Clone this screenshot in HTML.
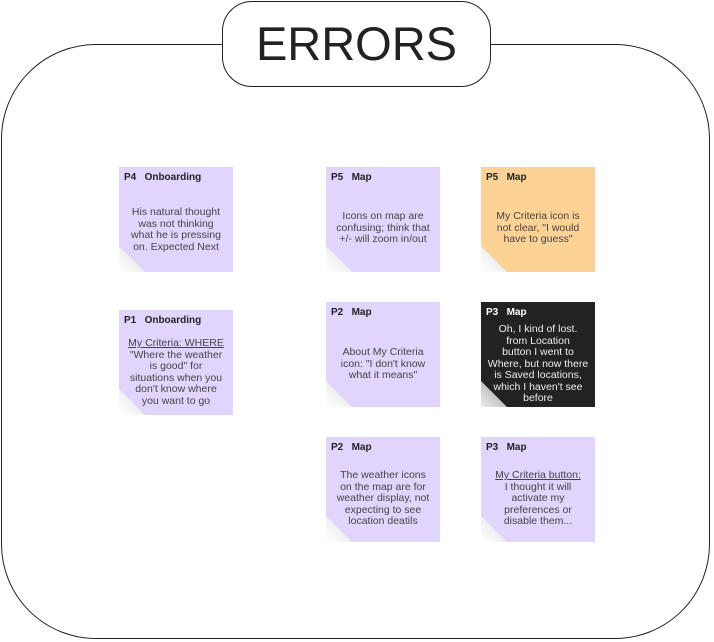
<!DOCTYPE html>
<html><head><style>
html,body{margin:0;padding:0;background:#fff;}
body{width:714px;height:642px;position:relative;overflow:hidden;font-family:"Liberation Sans",sans-serif;}
.frame{position:absolute;left:1px;top:44px;width:709px;height:595px;border:1.3px solid #222;border-radius:95px;box-sizing:border-box;}
.title{position:absolute;left:222px;top:1px;width:269px;height:86px;border:1.3px solid #222;border-radius:30px;background:#fff;box-sizing:border-box;text-align:center;font-size:47px;line-height:84px;color:#222;}
.n{position:absolute;width:114px;height:105px;background:#e2d5fd;color:#444;font-size:10.5px;line-height:11.5px;text-align:center;box-sizing:border-box;}
.n .h{position:absolute;left:5px;top:5px;font-weight:bold;font-size:10px;color:#222;text-align:left;white-space:pre;}
.n .t{position:absolute;left:0;right:0;white-space:nowrap;z-index:2;}
.n .c{position:absolute;left:0;bottom:0;width:26px;height:26px;background:linear-gradient(45deg,#fff 0%,#f3f3f3 40%,#d8d8d8 100%);clip-path:polygon(0 0,100% 100%,0 100%);}
.n.d .c{background:linear-gradient(45deg,#eee 0%,#bbb 60%,#888 100%);}
.u{text-decoration:underline;}
</style></head><body>
<div class="frame"></div>
<div class="title">ERRORS</div>

<div class="n" style="left:119px;top:167px"><div class="h">P4   Onboarding</div><div class="t" style="top:40px">His natural thought<br>was not thinking<br>what he is pressing<br>on. Expected Next</div><div class="c"></div></div>
<div class="n" style="left:119px;top:310px"><div class="h">P1   Onboarding</div><div class="t" style="top:28px"><span class="u">My Criteria: WHERE</span><br>"Where the weather<br>is good" for<br>situations when you<br>don't know where<br>you want to go</div><div class="c"></div></div>

<div class="n" style="left:326px;top:167px"><div class="h">P5   Map</div><div class="t" style="top:44px">Icons on map are<br>confusing; think that<br>+/- will zoom in/out</div><div class="c"></div></div>
<div class="n" style="left:326px;top:302px"><div class="h">P2   Map</div><div class="t" style="top:45px">About My Criteria<br>icon: "I don't know<br>what it means"</div><div class="c"></div></div>
<div class="n" style="left:326px;top:437px"><div class="h">P2   Map</div><div class="t" style="top:33px">The weather icons<br>on the map are for<br>weather display, not<br>expecting to see<br>location deatils</div><div class="c"></div></div>

<div class="n" style="left:481px;top:167px;background:#fcd394"><div class="h">P5   Map</div><div class="t" style="top:44px">My Criteria icon is<br>not clear, "I would<br>have to guess"</div><div class="c"></div></div>
<div class="n d" style="left:481px;top:302px;background:#222;color:#eee"><div class="h" style="color:#fff">P3   Map</div><div class="t" style="top:22px">Oh, I kind of lost.<br>from Location<br>button I went to<br>Where, but now there<br>is Saved locations,<br>which I haven't see<br>before</div><div class="c"></div></div>
<div class="n" style="left:481px;top:437px"><div class="h">P3   Map</div><div class="t" style="top:33px"><span class="u">My Criteria button:</span><br>I thought it will<br>activate my<br>preferences or<br>disable them...</div><div class="c"></div></div>
</body></html>
